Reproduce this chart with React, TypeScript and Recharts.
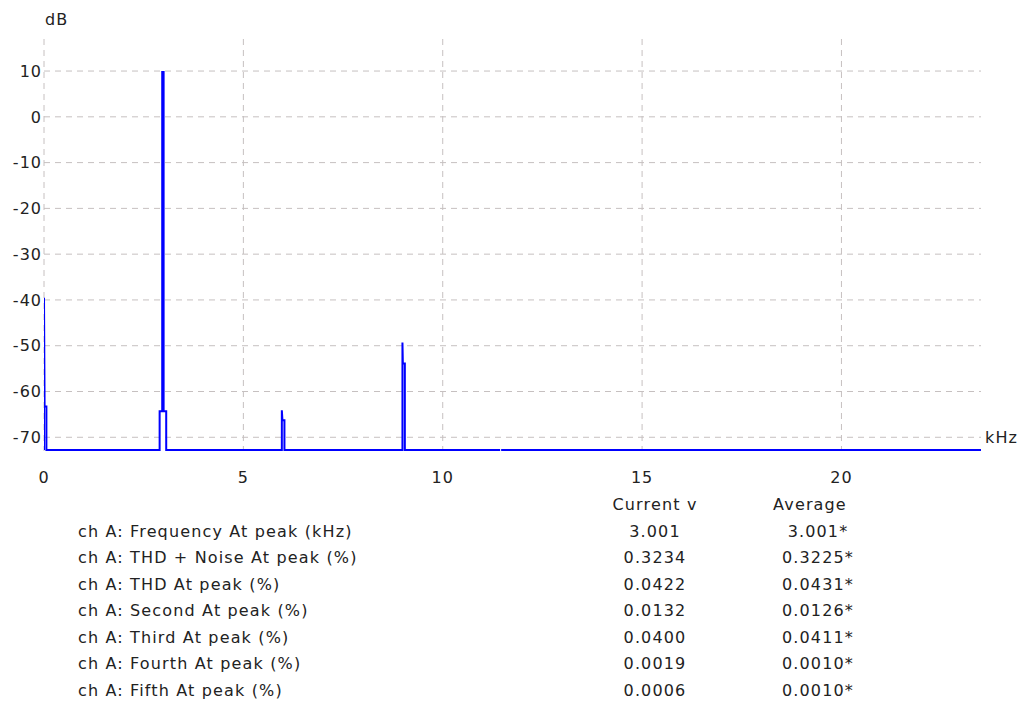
import { LineChart, Line, XAxis, YAxis, CartesianGrid } from "recharts";

// spectrum trace (kHz / dB)
const freqKHz = [
  0, 0, 0.015, 0.06, 0.06,
  2.9, 2.9, 2.965, 2.965, 3.0, 3.0, 3.065, 3.065,
  5.965, 5.965, 5.98, 6.03, 6.03,
  8.99, 8.99, 9.0, 9.05, 9.05,
  11.44, 11.45, 11.465,
  23.5,
];
const levelDb = [
  -72.8, -39.5, -63.3, -63.3, -72.8,
  -72.8, -64.3, -64.3, 9.8, 9.8, -64.3, -64.3, -72.8,
  -72.8, -64.1, -66.3, -66.3, -72.8,
  -72.8, -49.3, -53.9, -53.9, -72.8,
  -72.8, null, -72.8,
  -72.8,
];

const xTicks = [0, 5, 10, 15, 20];
const yTicks = [10, 0, -10, -20, -30, -40, -50, -60, -70];
const xDomain: [number, number] = [0, 23.5];
const yDomain: [number, number] = [-73, 17];

const metricLabels = [
  "ch A: Frequency At peak (kHz)",
  "ch A: THD + Noise At peak (%)",
  "ch A: THD At peak (%)",
  "ch A: Second At peak (%)",
  "ch A: Third At peak (%)",
  "ch A: Fourth At peak (%)",
  "ch A: Fifth At peak (%)",
];
const currentValues = ["3.001", "0.3234", "0.0422", "0.0132", "0.0400", "0.0019", "0.0006"];
const averageValues = ["3.001*", "0.3225*", "0.0431*", "0.0126*", "0.0411*", "0.0010*", "0.0010*"];

const spectrum = freqKHz.map((f, i) => ({ f, db: levelDb[i] }));

const FONT = '"DejaVu Sans", sans-serif';
const tickStyle = { fontFamily: FONT, fontSize: 16, fill: "#222", letterSpacing: 1 };
const txt = {
  position: "absolute" as const,
  fontFamily: FONT,
  fontSize: 16,
  letterSpacing: 1.15,
  lineHeight: "20px",
  height: 20,
  color: "#222",
  whiteSpace: "nowrap" as const,
};

// table rows: header centre y, then step
const ROW0 = 505;
const ROW_STEP = 26.5;

// grid only at the tick values (no border lines at the domain edges)
const hGrid = ({ yAxis, offset }: any) =>
  yTicks.map((t) =>
    yAxis && typeof yAxis.scale === "function"
      ? yAxis.scale(t)
      : offset.top + ((yDomain[1] - t) / (yDomain[1] - yDomain[0])) * offset.height
  );
const vGrid = ({ xAxis, offset }: any) =>
  xTicks.map((t) =>
    xAxis && typeof xAxis.scale === "function"
      ? xAxis.scale(t)
      : offset.left + ((t - xDomain[0]) / (xDomain[1] - xDomain[0])) * offset.width
  );

export default function App() {
  return (
    <div
      style={{
        position: "absolute",
        left: 0,
        top: 0,
        width: 1021,
        height: 704,
        background: "#fff",
        overflow: "hidden",
      }}
    >
      <LineChart
        width={1021}
        height={500}
        data={spectrum}
        margin={{ top: 39, right: 40, bottom: 20, left: 0 }}
      >
        <CartesianGrid
          stroke="#c6c0c0"
          strokeDasharray="6 5"
          horizontalCoordinatesGenerator={hGrid}
          verticalCoordinatesGenerator={vGrid}
        />
        <XAxis
          dataKey="f"
          type="number"
          domain={xDomain}
          ticks={xTicks}
          axisLine={false}
          tickLine={false}
          tickSize={0}
          tickMargin={21}
          height={29}
          tick={tickStyle}
          allowDataOverflow
        />
        <YAxis
          type="number"
          domain={yDomain}
          ticks={yTicks}
          width={44}
          axisLine={false}
          tickLine={false}
          tickSize={0}
          tickMargin={2}
          tick={tickStyle}
          allowDataOverflow
        />
        <Line
          type="linear"
          dataKey="db"
          stroke="#0000ff"
          strokeWidth={2}
          dot={false}
          activeDot={false}
          connectNulls={false}
          isAnimationActive={false}
        />
      </LineChart>

      <div style={{ ...txt, left: 45, top: 10 }}>dB</div>
      <div style={{ ...txt, left: 985, top: 428 }}>kHz</div>

      <div style={{ ...txt, left: 595, width: 120, textAlign: "center", top: ROW0 - 10 }}>
        Current v
      </div>
      <div style={{ ...txt, left: 750, width: 120, textAlign: "center", top: ROW0 - 10 }}>
        Average
      </div>
      {metricLabels.map((label, i) => {
        const cy = ROW0 + ROW_STEP * (i + 1);
        return (
          <div key={label}>
            <div style={{ ...txt, left: 78, top: cy - 10 }}>{label}</div>
            <div style={{ ...txt, left: 595, width: 120, textAlign: "center", top: cy - 10 }}>
              {currentValues[i]}
            </div>
            <div style={{ ...txt, left: 758, width: 120, textAlign: "center", top: cy - 10 }}>
              {averageValues[i]}
            </div>
          </div>
        );
      })}
    </div>
  );
}
